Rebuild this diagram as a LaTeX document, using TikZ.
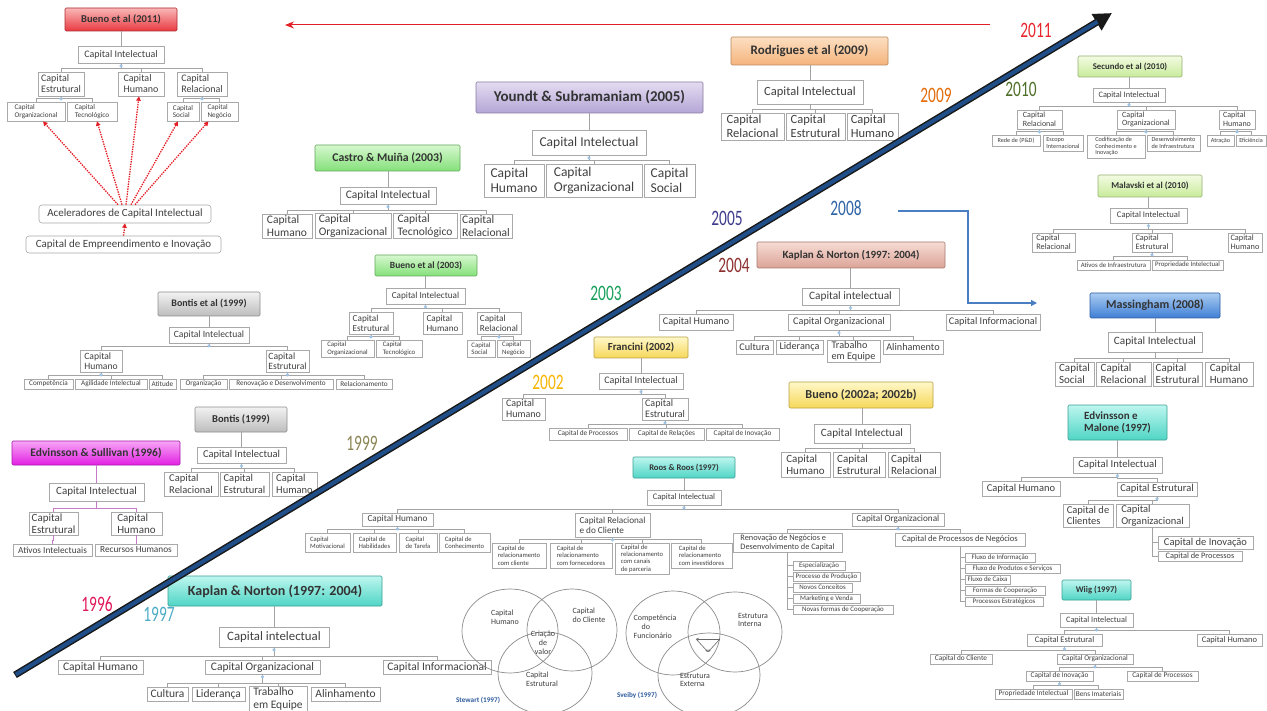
\documentclass[tikz,border=0pt]{standalone}
\usepackage{fontspec}
\setmainfont{Carlito}
\newfontfamily\yearfont[FakeStretch=0.7]{Carlito}
\usetikzlibrary{arrows.meta,calc}

% box and line colours
\definecolor{bxline}{HTML}{A9A9A9}
\definecolor{txt}{HTML}{404040}
\definecolor{connc}{HTML}{A3A3A3}
\definecolor{knobfillc}{HTML}{9DC3E6}
\definecolor{purpc}{HTML}{C77BC7}
\definecolor{redc}{HTML}{E41E26}
\definecolor{bluec}{HTML}{4A7EC2}
\definecolor{dgblue}{HTML}{1F4E89}
\definecolor{authc}{HTML}{2E5C9E}
% header gradients
\definecolor{rT}{HTML}{F9B8B8}\definecolor{rB}{HTML}{E8393F}
\definecolor{gT}{HTML}{F2F2F2}\definecolor{gB}{HTML}{BDBDBD}
\definecolor{mT}{HTML}{F7A6F7}\definecolor{mB}{HTML}{E21FE2}
\definecolor{grT}{HTML}{D6F8CE}\definecolor{grB}{HTML}{84E07A}
\definecolor{lgT}{HTML}{F3FBE2}\definecolor{lgB}{HTML}{C8EB9A}
\definecolor{pT}{HTML}{E4DCF1}\definecolor{pB}{HTML}{B4A5D6}
\definecolor{oT}{HTML}{FCDFC2}\definecolor{oB}{HTML}{F5B47C}
\definecolor{sT}{HTML}{F6DCD4}\definecolor{sB}{HTML}{DCA397}
\definecolor{blT}{HTML}{AACCF1}\definecolor{blB}{HTML}{3E7ED5}
\definecolor{yT}{HTML}{FFF8C8}\definecolor{yB}{HTML}{F6D75A}
\definecolor{tT}{HTML}{BDF6EF}\definecolor{tB}{HTML}{4FD5C5}
% year colours
\definecolor{c2011}{HTML}{E8262E}
\definecolor{c2010}{HTML}{4F6F28}
\definecolor{c2009}{HTML}{E46C0A}
\definecolor{c2008}{HTML}{2E64A6}
\definecolor{c2005}{HTML}{3F3C8C}
\definecolor{c2004}{HTML}{8E3030}
\definecolor{c2003}{HTML}{16A05A}
\definecolor{c2002}{HTML}{F8B500}
\definecolor{c1999}{HTML}{8B8555}
\definecolor{c1997}{HTML}{4AACC6}
\definecolor{c1996}{HTML}{E0185A}

\newcommand{\fz}[1]{\fontsize{#1}{#1}\selectfont\baselineskip=1.1\baselineskip}
% box given by its corners: [options]{name}{x1}{y1}{x2}{y2}{text}
\newcommand{\nbox}[7][]{\node[box,minimum width={#5-#3},minimum height={#6-#4},#1] (#2) at ({(#3+#5)/2},{(#4+#6)/2}) {#7};}
% parent to children, org-chart style
\newcommand{\cnTree}[3][]{\foreach \ch in {#3}{\draw[conn,#1] (#2.south) |- ($(\ch.north)+(0,-3.5)$) -- (\ch.north);}}
% parent to a vertical list of children
\newcommand{\cnSide}[2]{\foreach \ch in {#2}{\draw[conn] (#1.south) |- (\ch.west);}}
% header down to its root box
\newcommand{\cnDown}[3][]{\draw[conn,#1] (#3.north |- #2.south) -- (#3.north);}
\newcommand{\knob}[1]{\fill[knobfillc] ($(#1.south)+(0,2.6)$) circle[radius=1.8pt];}

\tikzset{
  conn/.style={draw=connc, line width=0.6pt},
  box/.style={draw=bxline, fill=white, line width=0.6pt, inner sep=1pt, text=txt, align=left},
  hd/.style 2 args={top color=#1, bottom color=#2, draw=#2!75!black, line width=0.6pt,
    text=black!80, rounded corners=1.2pt, align=center},
  fz/.style={font=\fz{#1}},
  fzb/.style={font=\fz{#1}\bfseries},
  yr/.style={font=\yearfont\fontsize{22}{22}\selectfont, inner sep=0pt},
  redarr/.style={draw=redc, line width=1.3pt, dash pattern=on 1.4pt off 1.1pt,
    -{Triangle[length=4.5pt,width=4.5pt]}},
  circ/.style={draw=black!45, line width=0.7pt},
  ctext/.style={font=\fz{8}, text=txt, align=left, inner sep=0pt},
  authr/.style={font=\fz{7.2}\bfseries, text=authc, inner sep=0pt},
}

\begin{document}
\begin{tikzpicture}[x=1pt,y=-1pt]
\useasboundingbox (0,0) rectangle (1267,711);
\fill[white] (0,0) rectangle (1267,711);

% ---------------- Bueno et al (2011)
\nbox[hd={rT}{rB},fzb=10.5]{b11}{65}{8}{177}{31}{Bueno et al (2011)}
\nbox[fz=10]{b11ci}{78}{46}{164}{63}{Capital Intelectual}
\nbox[fz=10]{b11e}{38}{72}{84}{96}{Capital\\Estrutural}
\nbox[fz=10]{b11h}{118}{72}{164}{96}{Capital\\Humano}
\nbox[fz=10]{b11r}{177}{72}{227}{96}{Capital\\Relacional}
\nbox[fz=7.2]{b11o}{7}{102}{65}{121}{Capital\\Organizacional}
\nbox[fz=7.2]{b11t}{67}{102}{117}{121}{Capital\\Tecnológico}
\nbox[fz=7.2]{b11s}{167}{102}{199}{121}{Capital\\Social}
\nbox[fz=7.2]{b11n}{201}{102}{238}{121}{Capital\\Negócio}
\nbox[fz=11,rounded corners=3pt]{acel}{39}{205}{211}{223}{Aceleradores de Capital Intelectual}
\nbox[fz=11,rounded corners=3pt]{empr}{26}{236}{221}{253}{Capital de Empreendimento e Inovação}
\cnDown{b11}{b11ci}
\cnTree{b11ci}{b11e,b11h,b11r}\knob{b11ci}
\cnTree{b11e}{b11o,b11t}\knob{b11e}
\cnTree{b11r}{b11s,b11n}\knob{b11r}
\draw[redarr] ($(acel.north)+(-7,0)$) -- ($(b11o.south)+(7,0)$);
\draw[redarr] ($(acel.north)+(-3,0)$) -- ($(b11t.south)+(5,0)$);
\draw[redarr] ($(acel.north)+(1,0)$) -- ($(b11h.south)+(-2,0)$);
\draw[redarr] ($(acel.north)+(6,0)$) -- ($(b11s.south)+(-5,0)$);
\draw[redarr] ($(acel.north)+(10,0)$) -- ($(b11n.south)+(-11,0)$);
\draw[redarr] (empr.north) -- (acel.south);

% ---------------- Bontis et al (1999)
\nbox[hd={gT}{gB},fzb=10]{be}{158}{292}{260}{316}{Bontis et al (1999)}
\nbox[fz=9.6]{beci}{169}{327}{249}{343}{Capital Intelectual}
\nbox[fz=9.6]{beh}{80}{350}{122}{372}{Capital\\Humano}
\nbox[fz=9.6]{bee}{266}{350}{309}{372}{Capital\\Estrutural}
\nbox[fz=7.2]{be1}{24}{379}{73}{389}{Competência}
\nbox[fz=7.2]{be2}{75}{379}{147}{389}{Agilidade Intelectual}
\nbox[fz=7.2]{be3}{149}{379}{176}{389}{Atitude}
\nbox[fz=7.2]{be4}{180}{379}{227}{389}{Organização}
\nbox[fz=7.2]{be5}{229}{379}{333}{389}{Renovação e Desenvolvimento}
\nbox[fz=7.2]{be6}{336}{379}{392}{389}{Relacionamento}
\cnDown{be}{beci}
\cnTree{beci}{beh,bee}\knob{beci}
\cnTree{beh}{be1,be2,be3}\knob{beh}
\cnTree{bee}{be4,be5,be6}\knob{bee}

% ---------------- Bontis (1999)
\nbox[hd={gT}{gB},fzb=10.5]{bo}{195}{407}{287}{432}{Bontis (1999)}
\nbox[fz=10.5]{boci}{197}{447}{286}{463}{Capital Intelectual}
\nbox[fz=10.5]{bor}{164}{472}{218}{496}{Capital\\Relacional}
\nbox[fz=10.5]{boe}{220}{472}{269}{496}{Capital\\Estrutural}
\nbox[fz=10.5]{boh}{272}{472}{317}{496}{Capital\\Humano}
\cnDown{bo}{boci}
\cnTree{boci}{bor,boe,boh}\knob{boci}

% ---------------- Edvinsson & Sullivan (1996)
\nbox[hd={mT}{mB},fzb=11.5]{es}{12}{441}{180}{465}{Edvinsson \& Sullivan (1996)}
\nbox[fz=11]{esci}{49}{483}{144}{501}{Capital Intelectual}
\nbox[fz=11]{ese}{29}{512}{78}{535}{Capital\\Estrutural}
\nbox[fz=11]{esh}{111}{512}{162}{535}{Capital\\Humano}
\nbox[fz=9.3]{esa}{13}{544}{92}{556}{Ativos Intelectuais}
\nbox[fz=9.3]{esr}{95}{544}{177}{556}{Recursos Humanos}
\cnDown[draw=purpc]{es}{esci}
\cnTree[draw=purpc]{esci}{ese,esh}
\cnTree[draw=purpc]{ese}{esa}
\cnTree[draw=purpc]{esh}{esr}

% ---------------- Castro & Muiña (2003)
\nbox[hd={grT}{grB},fzb=11.8]{cm}{315}{145}{460}{171}{Castro \& Muiña (2003)}
\nbox[fz=11.5]{cmci}{340}{187}{436}{204}{Capital Intelectual}
\nbox[fz=11.5]{cm1}{262}{214}{312}{238}{Capital\\Humano}
\nbox[fz=11.5]{cm2}{315}{214}{391}{238}{Capital\\Organizacional}
\nbox[fz=11.5]{cm3}{393}{214}{457}{238}{Capital\\Tecnológico}
\nbox[fz=11.5]{cm4}{460}{214}{512}{238}{Capital\\Relacional}
\cnDown{cm}{cmci}
\cnTree{cmci}{cm1,cm2,cm3,cm4}\knob{cmci}

% ---------------- Bueno et al (2003)
\nbox[hd={grT}{grB},fzb=9.5]{b03}{375}{255}{477}{276}{Bueno et al (2003)}
\nbox[fz=9.2]{b03ci}{386}{288}{465}{304}{Capital Intelectual}
\nbox[fz=9.2]{b03e}{349}{312}{393}{334}{Capital\\Estrutural}
\nbox[fz=9.2]{b03h}{423}{312}{462}{334}{Capital\\Humano}
\nbox[fz=9.2]{b03r}{477}{312}{521}{334}{Capital\\Relacional}
\nbox[fz=6.8]{b03o}{321}{340}{374}{357}{Capital\\Organizacional}
\nbox[fz=6.8]{b03t}{376}{340}{422}{357}{Capital\\Tecnológico}
\nbox[fz=6.8]{b03s}{467}{340}{495}{357}{Capital\\Social}
\nbox[fz=6.8]{b03n}{497}{340}{530}{357}{Capital\\Negócio}
\cnDown{b03}{b03ci}
\cnTree{b03ci}{b03e,b03h,b03r}\knob{b03ci}
\cnTree{b03e}{b03o,b03t}\knob{b03e}
\cnTree{b03r}{b03s,b03n}\knob{b03r}

% ---------------- Youndt & Subramaniam (2005)
\nbox[hd={pT}{pB},fzb=15]{yo}{476}{82}{703}{113}{Youndt \& Subramaniam (2005)}
\nbox[fz=13.5]{yoci}{532}{130}{646}{155}{Capital Intelectual}
\nbox[fz=13.5]{yo1}{484}{164}{544}{197}{Capital\\Humano}
\nbox[fz=13.5]{yo2}{546}{164}{642}{197}{Capital\\Organizacional}
\nbox[fz=13.5]{yo3}{644}{164}{695}{197}{Capital\\Social}
\cnDown{yo}{yoci}
\cnTree{yoci}{yo1,yo2,yo3}\knob{yoci}

% ---------------- Rodrigues et al (2009)
\nbox[hd={oT}{oB},fzb=13]{ro}{731}{37}{888}{65}{Rodrigues et al (2009)}
\nbox[fz=12.5]{roci}{757}{80}{863}{104}{Capital Intelectual}
\nbox[fz=12.5]{ro1}{721}{113}{784}{140}{Capital\\Relacional}
\nbox[fz=12.5]{ro2}{786}{113}{845}{140}{Capital\\Estrutural}
\nbox[fz=12.5]{ro3}{847}{113}{898}{140}{Capital\\Humano}
\cnDown{ro}{roci}
\cnTree{roci}{ro1,ro2,ro3}

% ---------------- Secundo et al (2010)
\nbox[hd={lgT}{lgB},fzb=8.8]{se}{1078}{56}{1182}{77}{Secundo et al (2010)}
\nbox[fz=8.3]{seci}{1093}{88}{1165}{102}{Capital Intelectual}
\nbox[fz=8]{se1}{1017}{110}{1062}{129}{Capital\\Relacional}
\nbox[fz=8]{se2}{1117}{110}{1175}{129}{Capital\\Organizacional}
\nbox[fz=8]{se3}{1219}{110}{1255}{129}{Capital\\Humano}
\nbox[fz=6.2]{se4}{992}{135}{1040}{146}{Rede de (P\&D)}
\nbox[fz=6.2]{se5}{1043}{135}{1083}{151}{Escopo\\Internacional}
\nbox[fz=6.2]{se6}{1087}{135}{1145}{158}{Codificação de\\Conhecimento e\\Inovação}
\nbox[fz=6.2]{se7}{1147}{135}{1200}{151}{Desenvolvimento\\de Infraestrutura}
\nbox[fz=6.2]{se8}{1207}{135}{1234}{146}{Atração}
\nbox[fz=6.2]{se9}{1236}{135}{1266}{146}{Eficiência}
\cnDown{se}{seci}
\cnTree{seci}{se1,se2,se3}\knob{seci}
\cnTree{se1}{se4,se5}\knob{se1}
\cnTree{se2}{se6,se7}\knob{se2}
\cnTree{se3}{se8,se9}\knob{se3}

% ---------------- Malavski et al (2010)
\nbox[hd={lgT}{lgB},fzb=9]{ma}{1098}{175}{1202}{197}{Malavski et al (2010)}
\nbox[fz=8.6]{maci}{1110}{208}{1187}{223}{Capital Intelectual}
\nbox[fz=8.3]{ma1}{1032}{233}{1075}{252}{Capital\\Relacional}
\nbox[fz=8.3]{ma2}{1132}{233}{1172}{252}{Capital\\Estrutural}
\nbox[fz=8.3]{ma3}{1228}{233}{1262}{252}{Capital\\Humano}
\nbox[fz=6.8]{ma4}{1077}{260}{1150}{270}{Ativos de Infraestrutura}
\nbox[fz=6.8]{ma5}{1152}{260}{1223}{270}{Propriedade Intelectual}
\cnDown{ma}{maci}
\cnTree{maci}{ma1,ma2,ma3}\knob{maci}
\cnTree{ma2}{ma4,ma5}\knob{ma2}

% ---------------- Kaplan & Norton (1997: 2004), upper
\nbox[hd={sT}{sB},fzb=11]{kt}{757}{242}{945}{268}{Kaplan \& Norton (1997: 2004)}
\nbox[fz=11.3]{ktci}{802}{288}{899}{305}{Capital intelectual}
\nbox[fz=10.2]{kt1}{659}{314}{733}{330}{Capital Humano}
\nbox[fz=10.2]{kt2}{788}{314}{890}{330}{Capital Organizacional}
\nbox[fz=10.2]{kt3}{946}{314}{1040}{330}{Capital Informacional}
\nbox[fz=10.2]{kt4}{736}{340}{773}{354}{Cultura}
\nbox[fz=10.2]{kt5}{776}{340}{823}{354}{Liderança}
\nbox[fz=10.2]{kt6}{827}{340}{880}{362}{Trabalho\\em Equipe}
\nbox[fz=10.2]{kt7}{883}{340}{943}{354}{Alinhamento}
\cnDown{kt}{ktci}
\cnTree{ktci}{kt1,kt2,kt3}\knob{ktci}
\cnTree{kt2}{kt4,kt5,kt6,kt7}\knob{kt2}

% ---------------- Massingham (2008)
\nbox[hd={blT}{blB},fzb=12]{ms}{1090}{293}{1220}{318}{Massingham (2008)}
\nbox[fz=11.2]{msci}{1108}{332}{1202}{352}{Capital Intelectual}
\nbox[fz=11]{ms1}{1055}{362}{1094}{386}{Capital\\Social}
\nbox[fz=11]{ms2}{1096}{362}{1151}{386}{Capital\\Relacional}
\nbox[fz=11]{ms3}{1153}{362}{1202}{386}{Capital\\Estrutural}
\nbox[fz=11]{ms4}{1205}{362}{1253}{386}{Capital\\Humano}
\cnDown{ms}{msci}
\cnTree{msci}{ms1,ms2,ms3,ms4}

% ---------------- Francini (2002)
\nbox[hd={yT}{yB},fzb=10.8]{fr}{594}{337}{688}{358}{Francini (2002)}
\nbox[fz=10]{frci}{599}{373}{683}{389}{Capital Intelectual}
\nbox[fz=10]{fr1}{502}{398}{545}{420}{Capital\\Humano}
\nbox[fz=10]{fr2}{642}{398}{688}{420}{Capital\\Estrutural}
\nbox[fz=7.3]{fr3}{549}{428}{627}{440}{Capital de Processos}
\nbox[fz=7.3]{fr4}{629}{428}{704}{440}{Capital de Relações}
\nbox[fz=7.3]{fr5}{706}{428}{779}{440}{Capital de Inovação}
\cnDown{fr}{frci}
\cnTree{frci}{fr1,fr2}\knob{frci}
\cnTree{fr2}{fr3,fr4,fr5}\knob{fr2}

% ---------------- Bueno (2002a; 2002b)
\nbox[hd={yT}{yB},fzb=12.2]{b02}{789}{382}{933}{408}{Bueno (2002a; 2002b)}
\nbox[fz=11.2]{b02ci}{814}{424}{910}{443}{Capital Intelectual}
\nbox[fz=11]{b021}{781}{452}{830}{477}{Capital\\Humano}
\nbox[fz=11]{b022}{833}{452}{885}{477}{Capital\\Estrutural}
\nbox[fz=11]{b023}{888}{452}{940}{477}{Capital\\Relacional}
\cnDown{b02}{b02ci}
\cnTree{b02ci}{b021,b022,b023}

% ---------------- Edvinsson e Malone (1997)
\nbox[hd={tT}{tB},fzb=11,align=left]{em}{1068}{405}{1167}{440}{Edvinsson e\\Malone (1997)}
\nbox[fz=10.7]{emci}{1073}{457}{1162}{473}{Capital Intelectual}
\nbox[fz=10.5]{em1}{982}{481}{1060}{496}{Capital Humano}
\nbox[fz=10.5]{em2}{1117}{482}{1197}{496}{Capital Estrutural}
\nbox[fz=10.5]{em3}{1063}{504}{1113}{527}{Capital de\\Clientes}
\nbox[fz=10.5]{em4}{1116}{504}{1189}{527}{Capital\\Organizacional}
\nbox[fz=10.5]{em5}{1158}{536}{1253}{549}{Capital de Inovação}
\nbox[fz=8.3]{em6}{1158}{551}{1242}{561}{Capital de Processos}
\cnDown{em}{emci}
\cnTree{emci}{em1,em2}\knob{emci}
\cnTree{em2}{em3,em4}\knob{em2}
\cnSide{em4}{em5,em6}

% ---------------- Roos & Roos (1997)
\nbox[hd={tT}{tB},fzb=8.6]{rr}{633}{457}{735}{478}{Roos \& Roos (1997)}
\nbox[fz=8.5]{rrci}{647}{490}{721}{505}{Capital Intelectual}
\nbox[fz=9.2]{rr1}{362}{513}{433}{526}{Capital Humano}
\nbox[fz=9.2]{rr2}{575}{513}{650}{537}{Capital Relacional\\e do Cliente}
\nbox[fz=9.2]{rr3}{852}{513}{944}{526}{Capital Organizacional}
\nbox[fz=6.6]{rr4}{305}{533}{350}{552}{Capital\\Motivacional}
\nbox[fz=6.6]{rr5}{353}{533}{396}{552}{Capital de\\Habilidades}
\nbox[fz=6.6]{rr6}{399}{533}{437}{552}{Capital\\de Tarefa}
\nbox[fz=6.6]{rr7}{439}{533}{490}{552}{Capital de\\Conhecimento}
\nbox[fz=6.6]{rr8}{492}{543}{546}{568}{Capital de\\relacionamento\\com cliente}
\nbox[fz=6.6]{rr9}{550}{543}{612}{568}{Capital de\\relacionamento\\com fornecedores}
\nbox[fz=6.6]{rr10}{615}{543}{669}{574}{Capital de\\relacionamento\\com canais\\de parceria}
\nbox[fz=6.6]{rr11}{671}{543}{732}{568}{Capital de\\relacionamento\\com investidores}
\nbox[fz=8.3]{rr12}{733}{533}{842}{552}{Renovação de Negócios e\\Desenvolvimento de Capital}
\nbox[fz=8.6]{rr13}{895}{533}{1025}{546}{Capital de Processos de Negócios}
\nbox[fz=6.9]{rr14}{793}{561}{845}{570}{Especialização}
\nbox[fz=6.9]{rr15}{793}{572}{860}{581}{Processo de Produção}
\nbox[fz=6.9]{rr16}{793}{583}{852}{592}{Novos Conceitos}
\nbox[fz=6.9]{rr17}{793}{594}{860}{603}{Marketing e Venda}
\nbox[fz=6.9]{rr18}{793}{605}{893}{614}{Novas formas de Cooperação}
\nbox[fz=6.9]{rr19}{965}{553}{1035}{562}{Fluxo de Informação}
\nbox[fz=6.9]{rr20}{965}{564}{1060}{573}{Fluxo de Produtos e Serviços}
\nbox[fz=6.9]{rr21}{965}{575}{1010}{584}{Fluxo de Caixa}
\nbox[fz=6.9]{rr22}{965}{586}{1045}{595}{Formas de Cooperação}
\nbox[fz=6.9]{rr23}{965}{597}{1043}{606}{Processos Estratégicos}
\cnDown{rr}{rrci}
\cnTree{rrci}{rr1,rr2,rr3}\knob{rrci}
\cnTree{rr1}{rr4,rr5,rr6,rr7}\knob{rr1}
\cnTree{rr2}{rr8,rr9,rr10,rr11}\knob{rr2}
\cnTree{rr3}{rr12,rr13}\knob{rr3}
\cnSide{rr12}{rr14,rr15,rr16,rr17,rr18}
\cnSide{rr13}{rr19,rr20,rr21,rr22,rr23}

% ---------------- Wiig (1997)
\nbox[hd={tT}{tB},fzb=8.7]{wi}{1062}{580}{1131}{600}{Wiig (1997)}
\nbox[fz=8.3]{wici}{1060}{613}{1133}{627}{Capital Intelectual}
\nbox[fz=8.5]{wi1}{1027}{634}{1102}{646}{Capital Estrutural}
\nbox[fz=8.5]{wi2}{1197}{634}{1262}{646}{Capital Humano}
\nbox[fz=7.3]{wi3}{930}{654}{992}{664}{Capital do Cliente}
\nbox[fz=7.3]{wi4}{1057}{654}{1133}{664}{Capital Organizacional}
\nbox[fz=7.3]{wi5}{1026}{671}{1093}{681}{Capital de Inovação}
\nbox[fz=7.3]{wi6}{1127}{671}{1198}{681}{Capital de Processos}
\nbox[fz=7.3]{wi7}{995}{689}{1072}{699}{Propriedade Intelectual}
\nbox[fz=7.3]{wi8}{1074}{689}{1123}{699}{Bens Imateriais}
\cnDown{wi}{wici}
\cnTree{wici}{wi1,wi2}\knob{wici}
\cnTree{wi1}{wi3,wi4}\knob{wi1}
\cnTree{wi4}{wi5,wi6}\knob{wi4}
\cnTree{wi5}{wi7,wi8}\knob{wi5}

% ---------------- Kaplan & Norton (1997: 2004), lower
\nbox[hd={tT}{tB},fzb=14]{kb}{168}{576}{382}{606}{Kaplan \& Norton (1997: 2004)}
\nbox[fz=12.8]{kbci}{219}{627}{329}{647}{Capital intelectual}
\nbox[fz=11.5]{kb1}{58}{660}{143}{674}{Capital Humano}
\nbox[fz=11.5]{kb2}{205}{660}{320}{674}{Capital Organizacional}
\nbox[fz=11.5]{kb3}{383}{660}{491}{674}{Capital Informacional}
\nbox[fz=11.5]{kb4}{147}{687}{188}{701}{Cultura}
\nbox[fz=11.5]{kb5}{192}{687}{245}{701}{Liderança}
\nbox[fz=11.5]{kb6}{249}{687}{307}{711}{Trabalho\\em Equipe}
\nbox[fz=11.5]{kb7}{311}{687}{380}{701}{Alinhamento}
\cnDown{kb}{kbci}
\cnTree{kbci}{kb1,kb2,kb3}\knob{kbci}
\cnTree{kb2}{kb4,kb5,kb6,kb7}\knob{kb2}

% ---------------- Stewart (1997): three overlapping circles
\draw[circ] (510,631) ellipse [x radius=48pt, y radius=42pt];
\draw[circ] (572,630) ellipse [x radius=45pt, y radius=41pt];
\draw[circ] (545,673) ellipse [x radius=47pt, y radius=41pt];
\node[ctext] (st1) at (505,617) {Capital\\Humano};
\node[ctext] (st2) at (589,615) {Capital\\do Cliente};
\node[ctext,align=center] (st3) at (543,643) {Criação\\de\\valor};
\node[ctext] (st4) at (542,679) {Capital\\Estrutural};
\node[authr] (st5) at (478,700) {Stewart (1997)};

% ---------------- Sveiby (1997): three overlapping circles
\draw[circ] (673,633) ellipse [x radius=47pt, y radius=42pt];
\draw[circ] (735,632) ellipse [x radius=47pt, y radius=40pt];
\draw[circ] (709,675) ellipse [x radius=51pt, y radius=42pt];
\node[ctext] (sv1) at (655,627) {Competência\\\hspace*{8pt}do\\Funcionário};
\node[ctext] (sv2) at (753,620) {Estrutura\\Interna};
\node[ctext] (sv3) at (695,680) {Estrutura\\Externa};
\node[authr] (sv4) at (637,695) {Sveiby (1997)};
\coordinate (tA) at (696,639);
\coordinate (tB) at (720,639);
\coordinate (tC) at (708,652);
\draw[draw=black!60, line width=0.6pt, -{Stealth[length=3pt,width=2.5pt]}] (tB) -- (tA);
\draw[draw=black!60, line width=0.6pt, -{Stealth[length=3pt,width=2.5pt]}] (tA) -- (tC);
\draw[draw=black!60, line width=0.6pt, -{Stealth[length=3pt,width=2.5pt]}] (tB) -- (tC);

% ---------------- timeline arrows
\coordinate (tl0) at (990,25);
\coordinate (tl1) at (285,25);
\draw[draw=redc, line width=1pt, -{Stealth[length=9pt,width=7pt]}] (tl0) -- (tl1);
\coordinate (ba0) at (898,211);
\coordinate (ba1) at (968,303);
\coordinate (ba2) at (1037,303);
\draw[draw=bluec, line width=1.2pt, -{Triangle[length=6pt,width=6pt]}] (ba0) -| (ba1) -- (ba2);

% ---------------- diagonal time axis
\coordinate (dg0) at (15,675);
\coordinate (dg1) at (1112,13);
\draw[line width=7pt, draw=black!90, -{Triangle[length=18pt,width=18pt]}] (dg0) -- (dg1);
\draw[line width=4pt, draw=dgblue, shorten >=17pt, shorten <=1pt] (dg0) -- (dg1);

% ---------------- year labels
\node[yr, text=c2011] (y2011) at (1036,30) {2011};
\node[yr, text=c2010] (y2010) at (1021,89) {2010};
\node[yr, text=c2009] (y2009) at (936,95) {2009};
\node[yr, text=c2008] (y2008) at (846,208) {2008};
\node[yr, text=c2005] (y2005) at (727,218) {2005};
\node[yr, text=c2004] (y2004) at (734,265) {2004};
\node[yr, text=c2003] (y2003) at (606,293) {2003};
\node[yr, text=c2002] (y2002) at (548,382) {2002};
\node[yr, text=c1999] (y1999) at (362,443) {1999};
\node[yr, text=c1997] (y1997) at (159,614) {1997};
\node[yr, text=c1996] (y1996) at (97,604) {1996};
\end{tikzpicture}
\end{document}
